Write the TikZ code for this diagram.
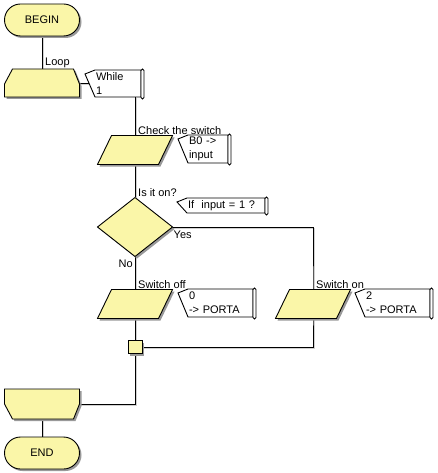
\documentclass[tikz,border=0pt]{standalone}
\usepackage{fontspec}
\setmainfont{Liberation Sans}
\usetikzlibrary{positioning,calc,shapes.geometric,backgrounds}
\definecolor{flowyellow}{HTML}{FAF6A8}

\begin{document}
\begin{tikzpicture}[x=1pt,y=-1pt,font=\fontsize{11}{14}\selectfont,
		box/.style={rectangle,minimum width=75pt,minimum height=29pt,inner sep=0pt,outer sep=0pt},
		flowfill/.style={fill=flowyellow,draw=black,line width=0.9pt,
			preaction={fill=black!40,transform canvas={shift={(2pt,-2pt)}}}},
		conn/.style={line width=0.9pt,
			preaction={draw=black!18,transform canvas={shift={(1.5pt,-1.5pt)}}}},
		cmt/.style={rectangle,anchor=north west,align=left,inner sep=1pt,outer sep=0pt},
		lbl/.style={inner sep=1pt,anchor=south west}]
	\useasboundingbox (0,0) rectangle (438,473);
	% terminals and loop
	\node (begin)     [box,rounded corners=16pt,minimum height=32pt,flowfill] at (42,20) {BEGIN};
	\node (loopstart) [box,minimum height=28pt] at (42,83) {};
	\draw[flowfill] ([xshift=8pt]loopstart.north west) -- ([xshift=-6pt]loopstart.north east)
		-- ([yshift=-15pt]loopstart.north east) -- (loopstart.south east)
		-- (loopstart.south west) -- ([yshift=-15pt]loopstart.north west) -- cycle;
	\node (loopend)   [box,minimum height=30pt] at (42,404) {};
	\draw[flowfill] (loopend.north west) -- (loopend.north east)
		-- ([yshift=15pt]loopend.south east) -- ([xshift=-6pt]loopend.south east)
		-- ([xshift=8pt]loopend.south west) -- ([yshift=15pt]loopend.south west) -- cycle;
	\node (end)       [box,rounded corners=16pt,minimum height=32pt,flowfill] at (42,453) {END};
	% inputs, outputs, decision
	\node (check) [box] at (135,150) {};
	\node (off)   [box] at (135,304) {};
	\node (on)    [box] at (313,304) {};
	\foreach \n in {check,off,on}
		\draw[flowfill] ([xshift=14pt]\n.north west) -- (\n.north east)
			-- ([xshift=-14pt]\n.south east) -- (\n.south west) -- cycle;
	\node (ison) [diamond,minimum width=75pt,minimum height=59pt,inner sep=0pt,outer sep=0pt,flowfill] at (135,227) {};
	\node (join) [rectangle,minimum width=14pt,minimum height=13pt,inner sep=0pt,outer sep=0pt,flowfill] at (135,347) {};
	% comments
	\node (cwhile) [cmt,text width=44pt,minimum height=27pt] at (95,70)  {While\\1};
	\node (ccheck) [cmt,text width=38pt,minimum height=28pt] at (188,135) {B0 ->\\input};
	\node (cif)    [cmt,text width=76pt,minimum height=15pt] at (187,198) {If\ \ input = 1 ?};
	\node (coff)   [cmt,text width=63pt,minimum height=28pt] at (188,289) {0\\-> PORTA};
	\node (con)    [cmt,text width=63pt,minimum height=28pt] at (365,289) {2\\-> PORTA};
	% labels
	\node (lloop)  [lbl] at ([xshift=2pt]loopstart.north) {Loop};
	\node (lcheck) [lbl] at ([xshift=2pt]check.north) {Check the switch};
	\node (lison)  [lbl] at ([xshift=2pt]ison.north) {Is it on?};
	\node (lyes)   [lbl,anchor=north west] at ([yshift=-3pt]ison.east) {Yes};
	\node (lno)    [lbl,anchor=north east] at ([xshift=-1pt,yshift=-2pt]ison.south) {No};
	\node (loff)   [lbl] at ([xshift=2pt]off.north) {Switch off};
	\node (lon)    [lbl] at ([xshift=2pt]on.north) {Switch on};

	\begin{scope}[on background layer]
		\draw[conn] (begin) -- (loopstart);
		\draw[conn] (loopstart.center) -- (cwhile.west |- loopstart.center);
		\draw[conn] (cwhile.south -| check.north) -- (check.center);
		\draw[conn] (check) -- (ison) -- (off) -- (join);
		\draw[conn] (ison.center) -| (on.center) |- (join.center);
		\draw[conn] (join.center) |- (loopend.center);
		\draw[conn] (loopend) -- (end);
		\foreach \c in {cwhile,ccheck,cif,coff,con}{
			\draw[fill=white,line width=0.9pt] (\c.north west) -- ([shift={(-10pt,-4pt)}]\c.north west)
				-- (\c.south west) -- (\c.south east) -- (\c.north east) -- cycle;
			\draw[fill=white,line width=0.9pt,rounded corners=1.5pt]
				([yshift=1pt]\c.north east) rectangle ([shift={(3pt,-2pt)}]\c.south east);
		}
	\end{scope}
\end{tikzpicture}
\end{document}
